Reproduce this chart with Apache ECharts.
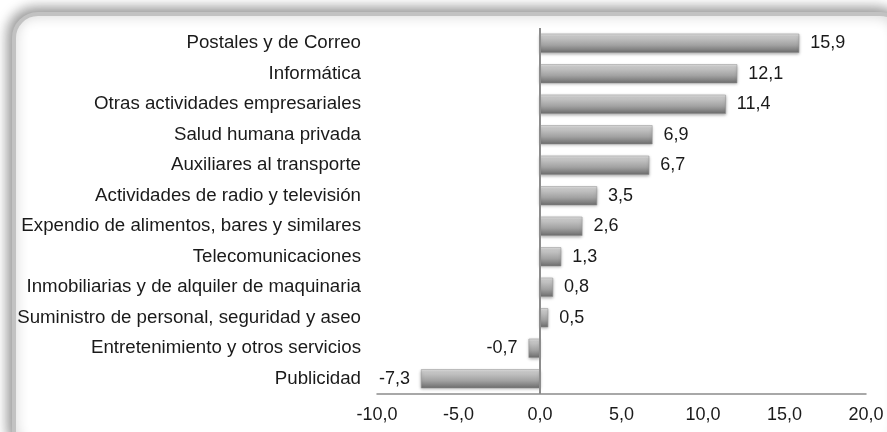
<!DOCTYPE html>
<html>
<head>
<meta charset="utf-8">
<script src="https://cdn.jsdelivr.net/npm/echarts@6/dist/echarts.min.js"></script>
<style>
  html, body { margin: 0; padding: 0; background: #fff; }
  #chart { width: 887px; height: 432px; }
</style>
</head>
<body>
<div id="chart"></div>
<script>
  // sectores, de arriba hacia abajo
  const sectores = [
    'Postales y de Correo',
    'Informática',
    'Otras actividades empresariales',
    'Salud humana privada',
    'Auxiliares al transporte',
    'Actividades de radio y televisión',
    'Expendio de alimentos, bares y similares',
    'Telecomunicaciones',
    'Inmobiliarias y de alquiler de maquinaria',
    'Suministro de personal, seguridad y aseo',
    'Entretenimiento y otros servicios',
    'Publicidad'
  ];
  const variacion = [15.9, 12.1, 11.4, 6.9, 6.7, 3.5, 2.6, 1.3, 0.8, 0.5, -0.7, -7.3];
  const ejeMin = -10;
  const ejeMax = 20;
  const ejePaso = 5;

  const fmt = v => v.toFixed(1).replace('.', ',');

  const chart = echarts.init(document.getElementById('chart'));

  const barData = variacion.map(v => ({
    value: v,
    label: { position: v < 0 ? 'left' : 'right' }
  }));

  const option = {
    animation: false,
    textStyle: { fontFamily: 'Liberation Sans, Arial, sans-serif' },
    graphic: [{
      type: 'rect',
      z: -10,
      shape: { x: 14, y: 14, width: 890, height: 440, r: 24 },
      style: {
        fill: '#fff',
        stroke: '#c2c2c2',
        lineWidth: 4,
        shadowBlur: 14,
        shadowColor: 'rgba(0,0,0,0.45)',
        shadowOffsetX: -3,
        shadowOffsetY: -3
      }
    }],
    grid: { left: 377, right: 21, top: 28, bottom: 38, containLabel: false },
    xAxis: {
      type: 'value',
      min: ejeMin,
      max: ejeMax,
      interval: ejePaso,
      splitLine: { show: false },
      axisTick: { show: false },
      axisLine: { show: true, lineStyle: { color: '#8c8c8c', width: 1.5 } },
      axisLabel: {
        formatter: fmt,
        color: '#1a1a1a',
        fontSize: 18,
        margin: 12
      }
    },
    yAxis: {
      type: 'category',
      inverse: true,
      data: sectores,
      axisLine: { show: false, onZero: false },
      axisTick: { show: false },
      axisLabel: { color: '#1a1a1a', fontSize: 18.7, margin: 16 }
    },
    series: [{
      type: 'bar',
      data: barData,
      barWidth: 19,
      itemStyle: {
        color: new echarts.graphic.LinearGradient(0, 0, 0, 1, [
          { offset: 0, color: '#e8e8e8' },
          { offset: 0.14, color: '#c9c9c9' },
          { offset: 0.6, color: '#a2a2a2' },
          { offset: 1, color: '#6c6c6c' }
        ]),
        borderColor: '#909090',
        borderWidth: 0.5,
        shadowBlur: 3,
        shadowColor: 'rgba(0,0,0,0.3)',
        shadowOffsetY: 1
      },
      label: {
        show: true,
        color: '#1a1a1a',
        fontSize: 18,
        distance: 11,
        formatter: p => fmt(p.value)
      },
      markLine: {
        silent: true,
        symbol: 'none',
        label: { show: false },
        lineStyle: { color: '#8c8c8c', width: 2, type: 'solid' },
        data: [{ xAxis: 0 }]
      }
    }]
  };

  chart.setOption(option);
</script>
</body>
</html>
